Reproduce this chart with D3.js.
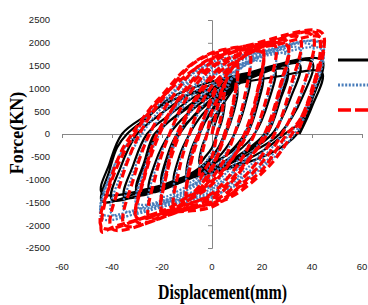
<!DOCTYPE html>
<html>
<head>
<meta charset="utf-8">
<script src="https://cdn.jsdelivr.net/npm/d3@7.9.0/dist/d3.min.js"></script>
<style>
  body { margin: 0; background: #fff; }
  svg { display: block; }
</style>
</head>
<body>
<svg id="chart" width="368" height="305"></svg>
<script>
// tick values
const xTicks = [-60, -40, -20, 0, 20, 40, 60];
const yTicks = [-2500, -2000, -1500, -1000, -500, 0, 500, 1000, 1500, 2000, 2500];

// [displacement (mm), force (KN)]
const seriesBlack = [
  [0, 0], [2, 350],
  [5, 700], [4, 300], [2, 0], [0, -300], [-3, -520], [-5, -650], [-4, -280], [-2, 0], [0, 300], [3, 540],
  [10, 1050], [8.5, 500], [5, 0], [1, -450], [-4, -750], [-10, -950], [-8.5, -420], [-5, 0], [-1, 450], [4, 800],
  [10, 980], [8.5, 450], [5.5, 0], [1, -420], [-4, -700], [-10, -880], [-8.5, -380], [-5.5, 0], [-1, 420], [4, 760],
  [15, 1250], [13, 600], [9, 0], [4, -420], [-4, -800], [-15, -1080], [-13, -480], [-9, 0], [-4, 420], [4, 850],
  [20, 1380], [18, 650], [13, 0], [7, -400], [-2, -750], [-11, -1000], [-20, -1180], [-18, -550], [-13, 0], [-7, 420], [1, 820], [10, 1150],
  [20, 1300], [18, 600], [14, 0], [8, -380], [-2, -700], [-11, -940], [-20, -1100], [-18, -500], [-14, 0], [-7, 400], [1, 780], [10, 1080],
  [25, 1430], [22.5, 700], [17, 0], [10, -400], [0, -760], [-12, -1050], [-25, -1260], [-22.5, -600], [-17, 0], [-10, 430], [0, 850], [12, 1200],
  [30, 1480], [27, 750], [21, 0], [13, -380], [2, -740], [-12, -1020], [-30, -1330], [-27, -650], [-22, 0], [-14, 420], [-3, 850], [12, 1230],
  [30, 1400], [27, 700], [22, 0], [14, -360], [2, -700], [-12, -960], [-30, -1250], [-27, -600], [-23, 0], [-14, 400], [-3, 800], [12, 1150],
  [35, 1530], [31.5, 800], [24, 0], [15, -370], [3, -720], [-13, -1020], [-35, -1390], [-31.5, -680], [-26, 0], [-17, 420], [-5, 880], [12, 1260],
  [40, 1580], [36.5, 850], [27, 0], [17, -370], [5, -700], [-13, -1000], [-40, -1440], [-36.5, -720], [-30, 0], [-21, 420], [-8, 900], [12, 1300],
  [44, 1620], [40, 800], [35, 250], [29, 0], [20, -380], [8, -700], [-8, -950], [-25, -1200], [-44, -1480], [-41, -800], [-38, -300], [-34, 0], [-25, 400], [-17, 780], [0, 1150], [20, 1400],
  [44, 1620], [40, 750], [34, 0], [25, -380], [10, -700], [-10, -980], [-44, -1300], [-41, -650], [-36, 0], [-27, 380], [-15, 760], [5, 1050], [25, 1250], [44, 1350], [40, 600], [35, 0]
];

const seriesBlue = [
  [0, 0], [2, 450],
  [5, 900], [4, 400], [2, 0], [0, -400], [-3, -650], [-5, -800], [-4, -350], [-2, 0], [0, 400], [3, 700],
  [10, 1350], [8.5, 600], [5, 0], [1, -550], [-4, -950], [-10, -1150], [-8.5, -500], [-5, 0], [-1, 600], [4, 1050],
  [10, 1250], [8.5, 550], [5.5, 0], [1, -500], [-4, -880], [-10, -1070], [-8.5, -460], [-5.5, 0], [-1, 550], [4, 980],
  [15, 1550], [13, 700], [9, 0], [4, -550], [-4, -1000], [-15, -1330], [-13, -600], [-9, 0], [-4, 600], [4, 1150],
  [20, 1680], [18, 800], [13, 0], [7, -550], [-2, -1000], [-11, -1250], [-20, -1450], [-18, -700], [-13, 0], [-7, 650], [1, 1150], [10, 1480],
  [20, 1580], [18, 740], [14, 0], [7, -520], [-2, -950], [-11, -1180], [-20, -1370], [-18, -650], [-14, 0], [-7, 600], [1, 1080], [10, 1400],
  [25, 1750], [22.5, 850], [17, 0], [10, -600], [0, -1100], [-12, -1350], [-25, -1530], [-22.5, -750], [-17, 0], [-10, 700], [0, 1250], [12, 1550],
  [30, 1820], [27, 900], [21, 0], [13, -600], [2, -1150], [-12, -1400], [-30, -1600], [-27, -800], [-21, 0], [-13, 700], [-2, 1300], [12, 1620],
  [30, 1730], [27, 850], [22, 0], [13, -570], [2, -1100], [-12, -1330], [-30, -1520], [-27, -750], [-22, 0], [-13, 660], [-2, 1230], [12, 1540],
  [35, 1880], [31.5, 950], [25, 0], [16, -650], [3, -1200], [-13, -1450], [-35, -1680], [-31.5, -850], [-25, 0], [-16, 700], [-4, 1350], [14, 1680],
  [40, 1940], [36.5, 1000], [28, 0], [18, -650], [5, -1250], [-13, -1500], [-40, -1760], [-36.5, -900], [-28, 0], [-19, 650], [-6, 1380], [15, 1740],
  [44, 1990], [40, 950], [35, 300], [31, 0], [20, -680], [10, -1000], [0, -1400], [-20, -1580], [-44, -1850], [-41, -950], [-35, -300], [-29, 0], [-25, 460], [-17, 850], [-10, 1250], [0, 1580], [20, 1800],
  [43, 1990], [40, 900], [33, 0], [22, -650], [5, -1250], [-20, -1500], [-44, -1750], [-40, -800], [-31, 0], [-20, 700], [0, 1450], [25, 1750], [44, 1850], [40, 800], [34, 0]
];

const seriesRed = [
  [0, 0], [2, 550],
  [5, 1100], [4, 500], [2, 0], [0, -500], [-3, -800], [-5, -1000], [-4, -450], [-2, 0], [0, 500], [3, 850],
  [10, 1600], [8.5, 700], [5, 0], [1, -650], [-4, -1150], [-10, -1450], [-8.5, -650], [-5, 0], [-1, 700], [4, 1250],
  [10, 1500], [8.5, 650], [5.5, 0], [1, -600], [-4, -1080], [-10, -1360], [-8.5, -600], [-5.5, 0], [-1, 650], [4, 1170],
  [15, 1750], [13, 800], [9, 0], [4, -650], [-4, -1200], [-15, -1600], [-13, -750], [-9, 0], [-4, 700], [4, 1300],
  [20, 1880], [18, 900], [13, 0], [7, -650], [-2, -1200], [-11, -1500], [-20, -1750], [-18, -850], [-13, 0], [-7, 750], [1, 1350], [10, 1700],
  [20, 1790], [18, 850], [14, 0], [7, -620], [-2, -1130], [-11, -1420], [-20, -1660], [-18, -800], [-14, 0], [-7, 700], [1, 1270], [10, 1610],
  [25, 1950], [22.5, 950], [17, 0], [10, -700], [0, -1300], [-12, -1600], [-25, -1850], [-22.5, -900], [-17, 0], [-10, 800], [0, 1450], [12, 1780],
  [30, 2040], [27, 1000], [21, 0], [13, -700], [2, -1350], [-12, -1650], [-30, -1930], [-27, -950], [-21, 0], [-13, 800], [-2, 1500], [12, 1850],
  [30, 1950], [27, 950], [22, 0], [13, -660], [2, -1280], [-12, -1570], [-30, -1840], [-27, -900], [-22, 0], [-13, 760], [-2, 1420], [12, 1760],
  [35, 2110], [31.5, 1050], [25, 0], [16, -750], [3, -1400], [-13, -1700], [-35, -2000], [-31.5, -1000], [-25, 0], [-16, 800], [-4, 1550], [14, 1900],
  [40, 2170], [36.5, 1050], [28, 0], [18, -750], [5, -1400], [-13, -1700], [-40, -2080], [-36.5, -1050], [-29, 0], [-20, 750], [-6, 1600], [15, 1950],
  [44, 2220], [40, 1000], [35, 300], [30, 0], [20, -790], [10, -1220], [0, -1600], [-20, -1750], [-40, -2050], [-44, -2150], [-41, -1100], [-36, -350], [-32, 0], [-25, 540], [-20, 850], [-10, 1450], [0, 1780], [20, 1980],
  [42, 2200], [40, 950], [32, 0], [22, -750], [5, -1450], [-20, -1700], [-44, -2050], [-40, -1000], [-31, 0], [-20, 800], [0, 1650], [25, 1950], [44, 2100], [40, 900], [34, 0]
];

const svg = d3.select('#chart');

const x = d3.scaleLinear().domain([-60, 60]).range([62, 362]);
const y = d3.scaleLinear().domain([-2500, 2500]).range([248, 20]);

const axisColor = '#868686';

// y axis through x = 0
const yAxis = svg.append('g')
    .attr('transform', `translate(${x(0)},0)`)
    .call(d3.axisLeft(y).tickValues(yTicks).tickSize(4).tickFormat(''));

// x axis through force = 0
const xAxis = svg.append('g')
    .attr('transform', `translate(0,${y(0)})`)
    .call(d3.axisBottom(x).tickValues(xTicks).tickSize(4).tickFormat(''));

[yAxis, xAxis].forEach((g) => {
    g.selectAll('path, line').attr('stroke', axisColor).attr('stroke-width', 1);
});

// tick labels sit at the low side
svg.append('g').selectAll('text')
    .data(yTicks)
    .join('text')
    .attr('x', 50)
    .attr('y', (d) => y(d))
    .attr('dy', '0.35em')
    .attr('text-anchor', 'end')
    .attr('font-family', 'Liberation Sans, Arial, sans-serif')
    .attr('font-size', 9.5)
    .attr('fill', '#222')
    .text((d) => d);

svg.append('g').selectAll('text')
    .data(xTicks)
    .join('text')
    .attr('x', (d) => x(d))
    .attr('y', 267)
    .attr('dy', '0.35em')
    .attr('text-anchor', 'middle')
    .attr('font-family', 'Liberation Sans, Arial, sans-serif')
    .attr('font-size', 9.5)
    .attr('fill', '#222')
    .text((d) => d);

// Loops
const line = d3.line()
    .x((d) => x(d[0]))
    .y((d) => y(d[1]))
    .curve(d3.curveCatmullRom.alpha(0.5));

const styles = [
    { data: seriesBlack, color: '#000000', width: 2.2, dash: null },
    { data: seriesBlue, color: '#4a7ebb', width: 2.2, dash: '2,1.6' },
    { data: seriesRed, color: '#ff0000', width: 3.2, dash: '8,4' },
];

styles.forEach((s) => {
    svg.append('path')
        .datum(s.data)
        .attr('d', line)
        .attr('fill', 'none')
        .attr('stroke', s.color)
        .attr('stroke-width', s.width)
        .attr('stroke-dasharray', s.dash)
        .attr('stroke-linejoin', 'round');
});

// Legend (labels run off the right edge)
const legendY = [60, 85, 110];
styles.forEach((s, i) => {
    svg.append('line')
        .attr('x1', 338)
        .attr('x2', 372)
        .attr('y1', legendY[i])
        .attr('y2', legendY[i])
        .attr('stroke', s.color)
        .attr('stroke-width', i === 2 ? 3.5 : 3)
        .attr('stroke-dasharray', i === 2 ? '13,4' : s.dash);
});

// Axis titles
svg.append('text')
    .attr('x', 158)
    .attr('y', 299)
    .attr('font-family', 'Liberation Serif, Times New Roman, serif')
    .attr('font-weight', 'bold')
    .attr('font-size', 20)
    .attr('textLength', 129)
    .attr('lengthAdjust', 'spacingAndGlyphs')
    .attr('fill', '#000')
    .text('Displacement(mm)');

svg.append('text')
    .attr('transform', 'translate(23,133) rotate(-90)')
    .attr('text-anchor', 'middle')
    .attr('font-family', 'Liberation Serif, Times New Roman, serif')
    .attr('font-weight', 'bold')
    .attr('font-size', 18)
    .attr('fill', '#000')
    .text('Force(KN)');
</script>
</body>
</html>
